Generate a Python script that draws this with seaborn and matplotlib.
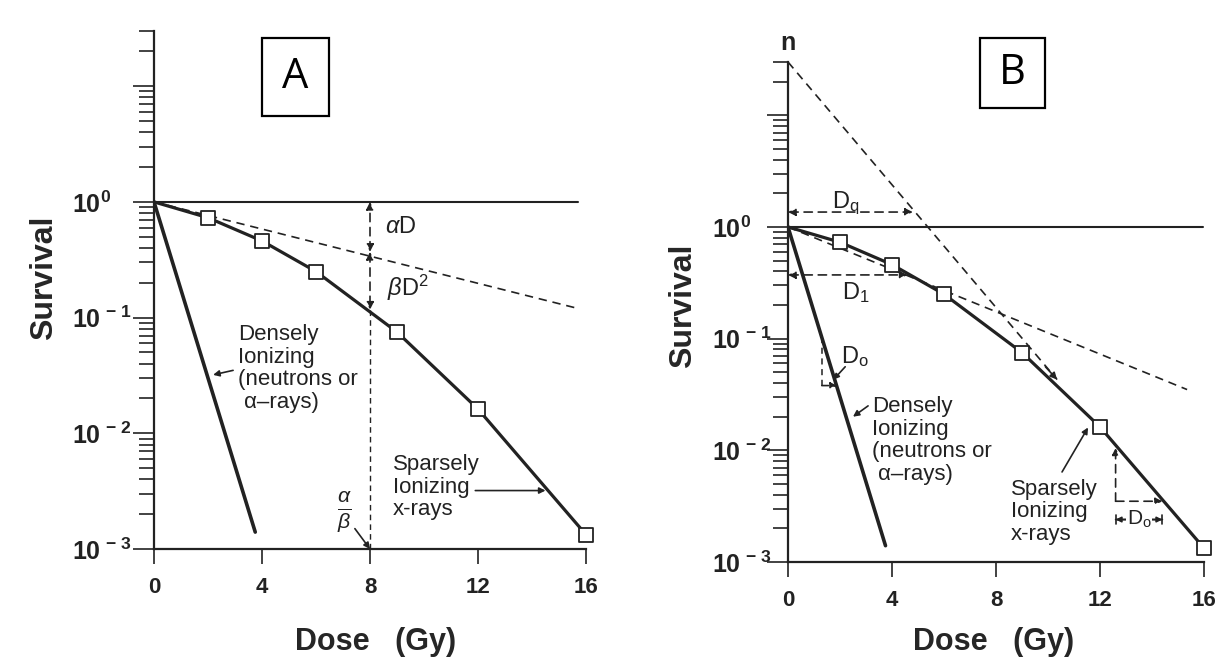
import numpy as np
import seaborn as sns
import matplotlib.pyplot as plt
from matplotlib.patches import Rectangle
from matplotlib.ticker import LogLocator, NullFormatter

# survival curve data (same cells in both panels)
xray_dose = [0, 2, 4, 6, 9, 12, 16]
xray_surv = [1.0, 0.73, 0.46, 0.25, 0.075, 0.0162, 0.00133]
square_dose = [2, 4, 6, 9, 12, 16]
square_surv = [0.73, 0.46, 0.25, 0.075, 0.0162, 0.00133]
dense_dose = [0, 3.75]
dense_surv = [1.0, 0.0014]

# panel A: linear (alpha D) component
alpha_dose = [0, 15.7]
alpha_surv = [1.0, 0.12]
# panel B: initial slope (D1) and final slope extrapolated back to n
d1_dose = [0, 15.35]
d1_surv = [1.0, 0.035]
n_dose = [0, 10.35]
n_surv = [30.0, 0.043]

xtick_vals = [0, 4, 8, 12, 16]
ytick_vals = [1e-3, 1e-2, 1e-1, 1e0, 1e1]
ytick_labels = [r'$\mathbf{10^{\,-\,3}}$', r'$\mathbf{10^{\,-\,2}}$', r'$\mathbf{10^{\,-\,1}}$',
                r'$\mathbf{10^{0}}$', '']

INK = '#222222'
DASH = (0, (5, 3.5))

sns.set_style('ticks')
plt.rcParams['font.family'] = ['Liberation Sans', 'DejaVu Sans']
plt.rcParams['mathtext.fontset'] = 'custom'
plt.rcParams['mathtext.rm'] = 'Liberation Sans'
plt.rcParams['mathtext.it'] = 'Liberation Sans:italic'
plt.rcParams['mathtext.bf'] = 'Liberation Sans:bold'
plt.rcParams['text.color'] = INK

W, H = 1222, 661
fig = plt.figure(figsize=(W / 100, H / 100), dpi=100)
fig.patch.set_facecolor('white')


def px_axes(left, right, top, bottom):
    # axes placed by pixel edges of the reference
    return fig.add_axes([left / W, 1 - bottom / H, (right - left) / W, (bottom - top) / H])


def arrow(ax, p0, p1, style='-|>', ls='-', lw=1.2, ms=11):
    ax.annotate('', xy=p1, xytext=p0,
                arrowprops=dict(arrowstyle=style, lw=lw, ls=ls, color=INK,
                                shrinkA=0, shrinkB=0, mutation_scale=ms))


def setup(ax, ypad):
    ax.set_yscale('log')
    ax.set_xlim(0, 16)
    ax.set_ylim(1e-3, 30)
    ax.set_xticks(xtick_vals)
    ax.set_xticklabels([str(v) for v in xtick_vals], fontsize=16, fontweight='bold')
    ax.set_yticks(ytick_vals)
    ax.set_yticklabels(ytick_labels, fontsize=18)
    for lbl in ax.get_yticklabels():
        lbl.set_ha('left')
    ax.yaxis.set_minor_locator(LogLocator(base=10, subs=np.arange(2, 10)))
    ax.yaxis.set_minor_formatter(NullFormatter())
    ax.tick_params(axis='y', which='major', length=15, width=1.2, pad=ypad, colors=INK)
    ax.tick_params(axis='y', which='minor', length=11, width=1.2, colors=INK)
    ax.tick_params(axis='x', length=11, width=1.2, pad=9, colors=INK)
    for side in ['top', 'right']:
        ax.spines[side].set_visible(False)
    for side in ['left', 'bottom']:
        ax.spines[side].set_linewidth(1.6)
        ax.spines[side].set_color(INK)
    ax.set_facecolor('none')


def curves(ax, hline_end):
    sns.lineplot(x=[0, hline_end], y=[1, 1], ax=ax, color=INK, lw=1.5, estimator=None)
    sns.lineplot(x=dense_dose, y=dense_surv, ax=ax, color=INK, lw=2.6, estimator=None, sort=False)
    sns.lineplot(x=xray_dose, y=xray_surv, ax=ax, color=INK, lw=2.3, estimator=None, sort=False)
    sns.scatterplot(x=square_dose, y=square_surv, ax=ax, marker='s', s=115, color='white',
                    edgecolor=INK, linewidth=1.3, zorder=5, clip_on=False)


# ---------------- panel A ----------------
axA = px_axes(154, 586, 31, 549)
setup(axA, 44)
curves(axA, 15.7)
sns.lineplot(x=alpha_dose, y=alpha_surv, ax=axA, color=INK, lw=1.2, ls=DASH, estimator=None)

arrow(axA, (8, 0.37), (8, 1.0), '<|-|>', ls=DASH)
arrow(axA, (8, 0.37), (8, 0.117), '<|-|>', ls=DASH)
axA.plot([8, 8], [0.117, 1e-3], color=INK, lw=1.0, ls=(0, (4, 3)))
axA.text(8.56, 0.61, r'$\alpha$D', fontsize=17, va='center')
axA.text(8.63, 0.18, r'$\beta$D$^2$', fontsize=17, va='center')

axA.text(3.11, 0.088, 'Densely\nIonizing\n(neutrons or\n \u03b1\u2013rays)', fontsize=16,
         va='top', linespacing=1.1)
arrow(axA, (2.93, 0.035), (2.19, 0.032), ms=9)
axA.text(8.85, 0.0066, 'Sparsely\nIonizing\nx-rays', fontsize=16, va='top', linespacing=1.1)
arrow(axA, (11.9, 0.0032), (14.5, 0.0032), ms=9)
axA.text(7.07, 0.0021, r'$\frac{\alpha}{\beta}$', fontsize=22, ha='center', va='center')
arrow(axA, (7.44, 0.0015), (8, 0.001), ms=9)

axA.set_xlabel('Dose   (Gy)', fontsize=22, fontweight='bold', va='center')
axA.xaxis.set_label_coords(0.514, -0.180)
axA.set_ylabel('Survival', fontsize=23, fontweight='bold', va='center')
axA.yaxis.set_label_coords(-0.255, 0.523)

# ---------------- panel B ----------------
axB = px_axes(788, 1204, 62, 562)
setup(axB, 40)
curves(axB, 15.95)
sns.lineplot(x=d1_dose, y=d1_surv, ax=axB, color=INK, lw=1.2, ls=DASH, estimator=None)
sns.lineplot(x=n_dose, y=n_surv, ax=axB, color=INK, lw=1.2, ls=DASH, estimator=None)
arrow(axB, (9.9, 0.056), (10.35, 0.043), ms=10)
axB.annotate('n', xy=(0, 30), xytext=(0, 9), textcoords='offset points', ha='center',
             va='baseline', fontsize=18, fontweight='bold', annotation_clip=False)

arrow(axB, (0, 1.36), (4.8, 1.36), '<|-|>', ls=DASH)
axB.text(1.69, 1.48, r'D$_\mathrm{q}$', fontsize=17, va='baseline')
arrow(axB, (0, 0.372), (4.6, 0.372), '<|-|>', ls=DASH)
axB.text(2.08, 0.224, r'D$_1$', fontsize=17, va='baseline')

axB.plot([1.3, 1.3], [0.104, 0.038], color=INK, lw=1.1, ls=(0, (4, 3)))
arrow(axB, (1.3, 0.038), (1.88, 0.038), ls=(0, (4, 3)), ms=9)
axB.text(2.04, 0.060, r'D$_\mathrm{o}$', fontsize=17, va='baseline')
arrow(axB, (2.2, 0.056), (1.75, 0.043), ms=8)

arrow(axB, (12.6, 0.0035), (12.6, 0.0105), ls=DASH, ms=10)
arrow(axB, (12.6, 0.0035), (14.4, 0.0035), ls=DASH, ms=10)
arrow(axB, (12.6, 0.0024), (14.4, 0.0024), '|-|, widthA=0.35, widthB=0.35', ms=10)
arrow(axB, (12.6, 0.0024), (14.4, 0.0024), '<|-|>', ms=8)
axB.text(13.5, 0.0024, r'D$_\mathrm{o}$', fontsize=15, ha='center', va='center',
         bbox=dict(fc='white', ec='none', pad=0.5))

axB.text(3.23, 0.0307, 'Densely\nIonizing\n(neutrons or\n \u03b1\u2013rays)', fontsize=16,
         va='top', linespacing=1.1)
arrow(axB, (3.08, 0.025), (2.5, 0.020), ms=9)
axB.text(8.58, 0.00555, 'Sparsely\nIonizing\nx-rays', fontsize=16, va='top', linespacing=1.1)
arrow(axB, (10.54, 0.0064), (11.54, 0.016), ms=9)

axB.set_xlabel('Dose   (Gy)', fontsize=22, fontweight='bold', va='center')
axB.xaxis.set_label_coords(0.495, -0.160)
axB.set_ylabel('Survival', fontsize=23, fontweight='bold', va='center')
axB.yaxis.set_label_coords(-0.252, 0.512)

# panel letters in boxes
for letter, (x0, x1, y0, y1) in [('A', (262, 329, 38, 116)), ('B', (980, 1045, 38, 108))]:
    fig.add_artist(Rectangle((x0 / W, 1 - y1 / H), (x1 - x0) / W, (y1 - y0) / H,
                             transform=fig.transFigure, fill=False, lw=1.6, ec='black'))
    fig.text((x0 + x1) / 2 / W, 1 - (y0 + y1) / 2 / H, letter, fontsize=30,
             family='Open Sans', ha='center', va='center', color='black')

fig.savefig('out.png', dpi=100)
